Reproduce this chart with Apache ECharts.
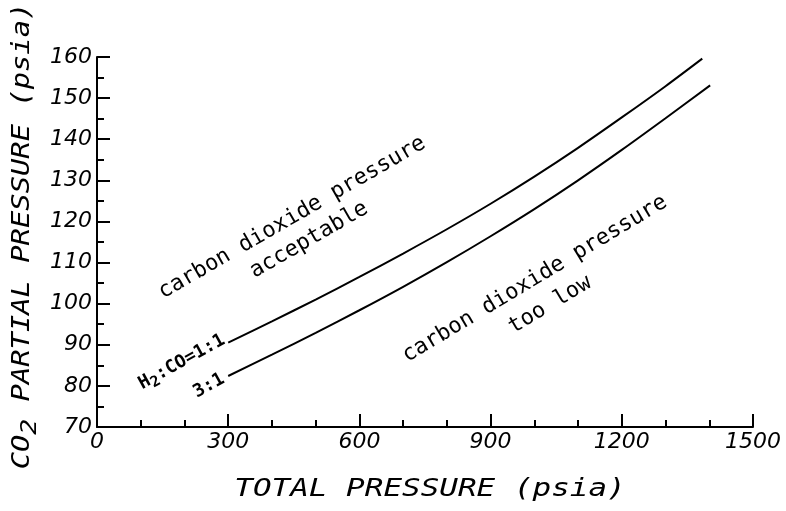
<!DOCTYPE html>
<html><head><meta charset="utf-8">
<script src="https://cdn.jsdelivr.net/npm/echarts@6/dist/echarts.min.js"></script>
<style>html,body{margin:0;padding:0;background:#fff}#c{width:786px;height:511px}</style>
</head><body><div id="c"></div>
<script>
// ---- data ----
const xTitle = 'TOTAL PRESSURE (psia)';
const yTitleMain = 'CO';
const yTitleSub = '2';
const yTitleRest = ' PARTIAL PRESSURE (psia)';

// H2:CO = 1:1 curve
const upperX = [300, 400, 500, 600, 700, 800, 900, 1000, 1100, 1200, 1300, 1384];
const upperY = [90.5, 95.7, 101.0, 106.5, 112.2, 118.1, 124.3, 130.9, 137.9, 145.3, 152.9, 159.6];
// H2:CO = 3:1 curve
const lowerX = [300, 400, 500, 600, 700, 800, 900, 1000, 1100, 1200, 1300, 1402];
const lowerY = [82.4, 87.6, 92.9, 98.4, 104.1, 110.1, 116.4, 123.0, 130.0, 137.4, 145.1, 153.1];

// annotations (text + anchor in data coordinates)
const noteText = ['carbon dioxide pressure', 'acceptable', 'carbon dioxide pressure', 'too low', 'H{s|2}:CO=1:1', '3:1'];
const noteX = [446, 485, 1001, 1036, 194, 256];
const noteY = [120.9, 115.5, 106.0, 99.7, 85.8, 80.0];
const noteAngle = [30, 30, 31, 31, 29, 29];
const noteKind = ['region', 'region', 'region', 'region', 'curve', 'curve'];

const INK = '#000';
const chart = echarts.init(document.getElementById('c'), null, {renderer: 'canvas'});

const axisCommon = {
  axisLine: {show: true, onZero: false, lineStyle: {color: INK, width: 2}},
  axisTick: {show: true, inside: true, length: 13, lineStyle: {color: INK, width: 2}},
  minorTick: {show: true, length: 7, lineStyle: {color: INK, width: 2}},
  splitLine: {show: false},
  minorSplitLine: {show: false},
  axisLabel: {color: INK, fontFamily: 'DejaVu Sans', fontStyle: 'italic', fontSize: 22,
              formatter: v => String(v)}
};

chart.setOption({
  animation: false,
  backgroundColor: '#fff',
  grid: {left: 97, right: 33, top: 57, bottom: 84, containLabel: false, outerBoundsMode: 'none'},
  xAxis: Object.assign({}, axisCommon, {
    type: 'value', min: 0, max: 1500, interval: 300,
    minorTick: Object.assign({}, axisCommon.minorTick, {splitNumber: 3}),
    axisLabel: Object.assign({}, axisCommon.axisLabel, {margin: 4})
  }),
  yAxis: Object.assign({}, axisCommon, {
    type: 'value', min: 70, max: 160, interval: 10,
    minorTick: Object.assign({}, axisCommon.minorTick, {splitNumber: 2}),
    axisLabel: Object.assign({}, axisCommon.axisLabel, {margin: 5})
  }),
  series: [
    {name: 'H2:CO=1:1', type: 'line', smooth: 0.3, showSymbol: false,
     lineStyle: {color: INK, width: 2}, data: upperX.map((x, i) => [x, upperY[i]])},
    {name: '3:1', type: 'line', smooth: 0.3, showSymbol: false,
     lineStyle: {color: INK, width: 2}, data: lowerX.map((x, i) => [x, lowerY[i]])}
  ]
});

const graphics = [];
graphics.push({
  type: 'text', x: 430, y: 490, scaleX: 1.29,
  style: {text: xTitle, font: 'italic 24px "DejaVu Sans Mono"', fill: INK, align: 'center', verticalAlign: 'middle'}
});
graphics.push({
  type: 'text', x: 23, y: 236, rotation: Math.PI / 2, scaleX: 1.2,
  style: {
    text: yTitleMain + '{s|' + yTitleSub + '}' + yTitleRest,
    font: 'italic 24px "DejaVu Sans Mono"', fill: INK, align: 'center', verticalAlign: 'middle',
    rich: {s: {font: 'italic 22px "DejaVu Sans Mono"', fill: INK, padding: [14, 0, 0, 0]}}
  }
});
noteText.forEach((t, i) => {
  const p = chart.convertToPixel({gridIndex: 0}, [noteX[i], noteY[i]]);
  const isCurve = noteKind[i] === 'curve';
  graphics.push({
    type: 'text', x: p[0], y: p[1], rotation: noteAngle[i] * Math.PI / 180,
    style: {
      text: t,
      font: isCurve ? 'bold 18px "DejaVu Sans Mono"' : '22px "DejaVu Sans Mono"',
      fill: INK, align: 'center', verticalAlign: 'middle',
      rich: {s: {font: 'bold 15px "DejaVu Sans Mono"', fill: INK, padding: [10, 0, 0, 0]}}
    }
  });
});
chart.setOption({graphic: graphics});
</script>
</body></html>
